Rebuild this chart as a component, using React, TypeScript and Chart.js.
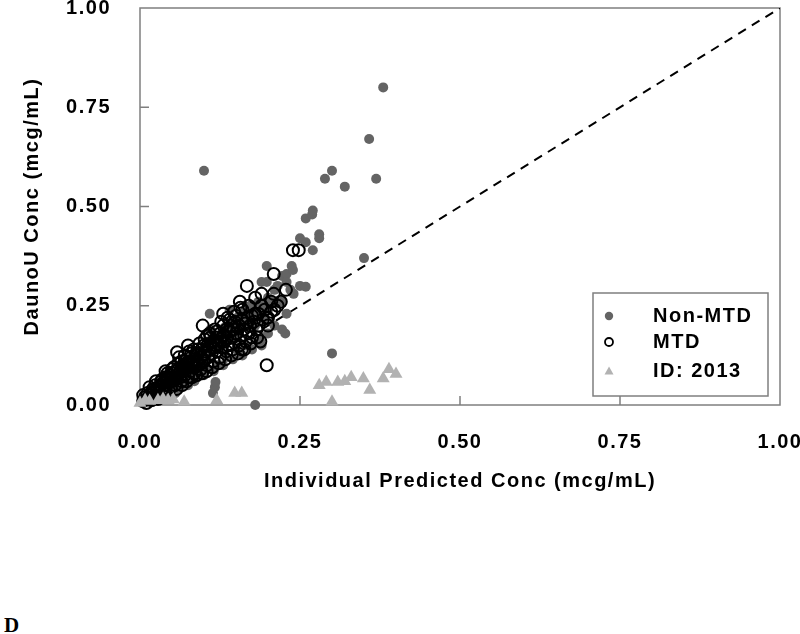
import React, { useEffect, useRef } from "react";
import { Chart, registerables } from "chart.js";

Chart.register(...registerables);

const FONT = "'Liberation Sans', Arial, sans-serif";

const axisTicks = [0, 0.25, 0.5, 0.75, 1];
const seriesNames = ["Non-MTD", "MTD", "ID: 2013"];
const xTitle = "Individual Predicted Conc (mcg/mL)";
const yTitle = "DaunoU Conc (mcg/mL)";
const panelLabel = "D";

const nonMtd: [number, number][] = [
  [0.003, 0.005], [0.006, 0.012], [0.01, 0.008], [0.012, 0.02], [0.015, 0.012],
  [0.02, 0.03], [0.022, 0.018], [0.025, 0.028], [0.03, 0.035], [0.032, 0.025],
  [0.035, 0.045], [0.04, 0.04], [0.042, 0.055], [0.045, 0.05], [0.048, 0.06],
  [0.05, 0.045], [0.052, 0.065], [0.055, 0.07], [0.058, 0.06], [0.06, 0.075],
  [0.062, 0.1], [0.065, 0.08], [0.068, 0.09], [0.07, 0.065], [0.072, 0.085],
  [0.075, 0.1], [0.078, 0.095], [0.08, 0.11], [0.082, 0.09], [0.085, 0.105],
  [0.088, 0.115], [0.09, 0.12], [0.092, 0.095], [0.095, 0.13], [0.098, 0.11],
  [0.1, 0.14], [0.103, 0.125], [0.105, 0.16], [0.108, 0.13], [0.109, 0.23],
  [0.11, 0.15], [0.112, 0.165], [0.114, 0.03], [0.117, 0.045], [0.118, 0.058],
  [0.12, 0.16], [0.122, 0.14], [0.125, 0.17], [0.128, 0.15], [0.13, 0.18],
  [0.132, 0.195], [0.135, 0.16], [0.138, 0.175], [0.14, 0.2], [0.142, 0.18],
  [0.145, 0.21], [0.148, 0.17], [0.15, 0.19], [0.152, 0.22], [0.155, 0.185],
  [0.158, 0.2], [0.16, 0.23], [0.162, 0.21], [0.165, 0.24], [0.168, 0.2],
  [0.17, 0.22], [0.172, 0.25], [0.175, 0.215], [0.178, 0.24], [0.18, 0.2],
  [0.182, 0.23], [0.185, 0.26], [0.188, 0.16], [0.19, 0.31], [0.19, 0.22],
  [0.192, 0.25], [0.195, 0.22], [0.198, 0.35], [0.198, 0.31], [0.2, 0.27],
  [0.2, 0.24], [0.206, 0.26], [0.21, 0.29], [0.215, 0.3], [0.222, 0.26],
  [0.222, 0.325], [0.222, 0.19], [0.227, 0.18], [0.229, 0.33], [0.229, 0.23],
  [0.229, 0.31], [0.235, 0.29], [0.237, 0.35], [0.239, 0.34], [0.24, 0.28],
  [0.25, 0.3], [0.25, 0.42], [0.259, 0.298], [0.259, 0.41], [0.259, 0.47],
  [0.269, 0.48], [0.27, 0.49], [0.27, 0.39], [0.28, 0.43], [0.28, 0.42],
  [0.289, 0.57], [0.3, 0.59], [0.3, 0.13], [0.32, 0.55], [0.35, 0.37],
  [0.358, 0.67], [0.369, 0.57], [0.38, 0.8], [0.1, 0.59], [0.18, 0.0],
  [0.06, 0.04], [0.075, 0.05], [0.09, 0.07], [0.105, 0.09], [0.12, 0.1],
  [0.135, 0.12], [0.15, 0.14], [0.165, 0.15], [0.11, 0.19], [0.14, 0.24],
  [0.07, 0.05], [0.085, 0.06], [0.1, 0.075], [0.115, 0.085], [0.13, 0.1],
  [0.145, 0.115], [0.16, 0.125], [0.175, 0.14], [0.19, 0.15], [0.2, 0.18],
  [0.21, 0.2], [0.04, 0.02], [0.055, 0.03],
];

const mtd: [number, number][] = [
  [0.005, 0.01], [0.008, 0.02], [0.012, 0.015], [0.015, 0.025], [0.018, 0.03],
  [0.02, 0.02], [0.022, 0.035], [0.025, 0.04], [0.028, 0.03], [0.03, 0.045],
  [0.032, 0.05], [0.035, 0.04], [0.036, 0.055], [0.038, 0.06], [0.04, 0.05],
  [0.042, 0.065], [0.044, 0.07], [0.045, 0.055], [0.047, 0.075], [0.05, 0.06],
  [0.05, 0.08], [0.052, 0.07], [0.055, 0.085], [0.056, 0.065], [0.058, 0.075],
  [0.058, 0.133], [0.06, 0.09], [0.062, 0.08], [0.063, 0.07], [0.065, 0.095],
  [0.066, 0.085], [0.068, 0.1], [0.07, 0.075], [0.07, 0.09], [0.072, 0.105],
  [0.074, 0.095], [0.075, 0.15], [0.076, 0.11], [0.078, 0.085], [0.08, 0.1],
  [0.08, 0.12], [0.082, 0.105], [0.085, 0.115], [0.086, 0.095], [0.088, 0.125],
  [0.09, 0.11], [0.09, 0.13], [0.092, 0.1], [0.095, 0.12], [0.096, 0.14],
  [0.098, 0.2], [0.1, 0.125], [0.1, 0.11], [0.102, 0.135], [0.105, 0.15],
  [0.106, 0.12], [0.108, 0.14], [0.11, 0.155], [0.112, 0.13], [0.115, 0.145],
  [0.115, 0.16], [0.118, 0.15], [0.12, 0.17], [0.12, 0.135], [0.122, 0.155],
  [0.125, 0.18], [0.126, 0.16], [0.128, 0.145], [0.13, 0.23], [0.13, 0.175],
  [0.132, 0.16], [0.135, 0.19], [0.136, 0.17], [0.138, 0.15], [0.14, 0.185],
  [0.142, 0.2], [0.145, 0.17], [0.146, 0.19], [0.148, 0.21], [0.15, 0.18],
  [0.152, 0.195], [0.155, 0.2], [0.156, 0.26], [0.158, 0.175], [0.159, 0.14],
  [0.16, 0.215], [0.162, 0.19], [0.165, 0.205], [0.167, 0.3], [0.168, 0.22],
  [0.17, 0.18], [0.172, 0.2], [0.175, 0.225], [0.178, 0.21], [0.18, 0.27],
  [0.182, 0.19], [0.185, 0.23], [0.188, 0.16], [0.19, 0.28], [0.192, 0.215],
  [0.195, 0.24], [0.198, 0.1], [0.198, 0.22], [0.2, 0.2], [0.205, 0.235],
  [0.209, 0.28], [0.209, 0.33], [0.215, 0.25], [0.22, 0.26], [0.228, 0.29],
  [0.239, 0.39], [0.248, 0.39],
  [0.01, 0.005], [0.02, 0.04], [0.03, 0.02], [0.04, 0.07], [0.045, 0.035],
  [0.05, 0.09], [0.055, 0.05], [0.06, 0.105], [0.065, 0.06], [0.07, 0.11],
  [0.075, 0.07], [0.08, 0.13], [0.085, 0.08], [0.09, 0.14], [0.095, 0.09],
  [0.1, 0.15], [0.105, 0.1], [0.11, 0.17], [0.115, 0.11], [0.12, 0.185],
  [0.125, 0.12], [0.13, 0.2], [0.135, 0.135], [0.14, 0.215], [0.145, 0.14],
  [0.15, 0.225], [0.155, 0.15], [0.16, 0.24], [0.165, 0.16], [0.17, 0.25],
  [0.175, 0.17], [0.18, 0.23], [0.185, 0.2], [0.19, 0.25], [0.2, 0.22],
  [0.205, 0.26], [0.21, 0.24], [0.035, 0.065], [0.065, 0.11], [0.105, 0.175],
  [0.012, 0.03], [0.018, 0.012], [0.024, 0.05], [0.028, 0.015], [0.033, 0.06],
  [0.038, 0.03], [0.043, 0.08], [0.048, 0.045], [0.053, 0.095], [0.057, 0.04],
  [0.061, 0.12], [0.066, 0.05], [0.07, 0.125], [0.073, 0.06], [0.077, 0.135],
  [0.081, 0.07], [0.084, 0.14], [0.088, 0.075], [0.093, 0.155], [0.097, 0.08],
  [0.101, 0.165], [0.104, 0.085], [0.109, 0.18], [0.113, 0.095], [0.117, 0.19],
  [0.123, 0.105], [0.127, 0.21], [0.133, 0.115], [0.137, 0.22], [0.143, 0.125],
  [0.147, 0.235], [0.153, 0.13], [0.157, 0.245], [0.163, 0.14], [0.173, 0.155],
  [0.183, 0.17], [0.025, 0.06], [0.015, 0.045], [0.005, 0.025], [0.04, 0.085],
];

const id2013: [number, number][] = [
  [0.0, 0.005], [0.008, 0.012], [0.015, 0.01], [0.028, 0.012], [0.036, 0.015],
  [0.044, 0.012], [0.052, 0.014], [0.069, 0.008], [0.12, 0.012], [0.148, 0.03],
  [0.159, 0.03], [0.28, 0.05], [0.291, 0.058], [0.3, 0.008], [0.309, 0.058],
  [0.32, 0.06], [0.33, 0.07], [0.349, 0.067], [0.359, 0.038], [0.38, 0.067],
  [0.389, 0.09], [0.4, 0.078],
];

const identityLine: [number, number][] = [[0, 0], [1, 1]];

const toPts = (a: [number, number][]) => a.map(([x, y]) => ({ x, y }));

const SPACING = "1.5px";

const spacingPlugin = {
  id: "spacing",
  beforeUpdate(chart: any) {
    chart.ctx.letterSpacing = SPACING;
  },
  beforeDraw(chart: any) {
    chart.ctx.letterSpacing = SPACING;
  },
};

const framePlugin = {
  id: "frame",
  beforeDatasetsDraw(chart: any) {
    const { ctx, chartArea: a, scales } = chart;
    ctx.save();
    ctx.strokeStyle = "#7f7f7f";
    ctx.lineWidth = 1.5;
    ctx.strokeRect(a.left, a.top, a.right - a.left, a.bottom - a.top);
    ctx.beginPath();
    for (const v of axisTicks.slice(1, -1)) {
      const px = scales.x.getPixelForValue(v);
      ctx.moveTo(px, a.bottom);
      ctx.lineTo(px, a.bottom - 9);
      const py = scales.y.getPixelForValue(v);
      ctx.moveTo(a.left, py);
      ctx.lineTo(a.left + 9, py);
    }
    ctx.stroke();
    ctx.restore();
  },
};

const legendPlugin = {
  id: "boxLegend",
  afterDraw(chart: any) {
    const { ctx, chartArea: a } = chart;
    const bx = a.right - 187;
    const by = a.bottom - 112;
    const bw = 175;
    const bh = 103;
    ctx.save();
    ctx.fillStyle = "#ffffff";
    ctx.fillRect(bx, by, bw, bh);
    ctx.strokeStyle = "#7f7f7f";
    ctx.lineWidth = 1.5;
    ctx.strokeRect(bx, by, bw, bh);
    const rows = [by + 23, by + 49, by + 78];
    const mx = bx + 16;
    ctx.fillStyle = "#646464";
    ctx.beginPath();
    ctx.arc(mx, rows[0], 4.2, 0, Math.PI * 2);
    ctx.fill();
    ctx.strokeStyle = "#000000";
    ctx.lineWidth = 1.8;
    ctx.beginPath();
    ctx.arc(mx, rows[1], 4, 0, Math.PI * 2);
    ctx.stroke();
    ctx.fillStyle = "#b2b2b2";
    ctx.beginPath();
    ctx.moveTo(mx, rows[2] - 4.5);
    ctx.lineTo(mx + 4.5, rows[2] + 3.5);
    ctx.lineTo(mx - 4.5, rows[2] + 3.5);
    ctx.closePath();
    ctx.fill();
    ctx.fillStyle = "#000000";
    ctx.font = `bold 20px ${FONT}`;
    ctx.letterSpacing = SPACING;
    ctx.textAlign = "left";
    ctx.textBaseline = "middle";
    seriesNames.forEach((n, i) => ctx.fillText(n, bx + 60, rows[i]));
    ctx.restore();
  },
};

export default function App() {
  const ref = useRef<HTMLCanvasElement>(null);

  useEffect(() => {
    if (!ref.current) return;
    const tickFont = { family: FONT, size: 20, weight: "bold" as const };
    const chart = new Chart(ref.current, {
      type: "scatter",
      data: {
        datasets: [
          {
            label: seriesNames[0],
            data: toPts(nonMtd),
            pointStyle: "circle",
            pointRadius: 5,
            pointBackgroundColor: "#646464",
            pointBorderColor: "#646464",
            pointBorderWidth: 0,
            order: 3,
            clip: false,
          } as any,
          {
            label: seriesNames[1],
            data: toPts(mtd),
            pointStyle: "circle",
            pointRadius: 6,
            pointBackgroundColor: "rgba(0,0,0,0)",
            pointBorderColor: "#000000",
            pointBorderWidth: 2,
            order: 2,
            clip: false,
          } as any,
          {
            label: seriesNames[2],
            data: toPts(id2013),
            pointStyle: "triangle",
            pointRadius: 7.5,
            pointBackgroundColor: "#b2b2b2",
            pointBorderColor: "#b2b2b2",
            pointBorderWidth: 0,
            order: 1,
            clip: false,
          } as any,
          {
            label: "identity",
            data: toPts(identityLine),
            showLine: true,
            borderColor: "#000000",
            borderWidth: 2,
            borderDash: [9, 7],
            pointRadius: 0,
            order: 4,
          } as any,
        ],
      },
      plugins: [spacingPlugin, framePlugin, legendPlugin],
      options: {
        responsive: false,
        animation: false,
        devicePixelRatio: 1,
        events: [],
        layout: { padding: { left: 0, right: 20, top: 5, bottom: 0 } },
        plugins: {
          legend: { display: false },
          tooltip: { enabled: false },
        },
        scales: {
          x: {
            type: "linear",
            min: 0,
            max: 1,
            afterBuildTicks: (s: any) => {
              s.ticks = axisTicks.map((v) => ({ value: v }));
            },
            afterFit: (s: any) => {
              s.height = 95;
              s.paddingLeft = 0;
              s.paddingRight = 0;
            },
            ticks: {
              font: tickFont,
              color: "#000000",
              padding: 17,
              callback: (v: any) => Number(v).toFixed(2),
            },
            grid: { display: false },
            border: { display: false },
            title: {
              display: true,
              text: xTitle,
              color: "#000000",
              font: tickFont,
              padding: { top: 0, bottom: 7 },
            },
          },
          y: {
            type: "linear",
            min: 0,
            max: 1,
            afterBuildTicks: (s: any) => {
              s.ticks = axisTicks.map((v) => ({ value: v }));
            },
            afterFit: (s: any) => {
              s.width = 140;
              s.paddingTop = 0;
              s.paddingBottom = 0;
            },
            ticks: {
              font: tickFont,
              color: "#000000",
              padding: 21,
              callback: (v: any) => Number(v).toFixed(2),
            },
            grid: { display: false },
            border: { display: false },
            title: {
              display: true,
              text: yTitle,
              color: "#000000",
              font: tickFont,
              padding: { top: 20, bottom: 0 },
            },
          },
        },
      },
    });
    return () => chart.destroy();
  }, []);

  return (
    <div style={{ position: "absolute", left: 0, top: 0, width: 800, height: 634, background: "#ffffff" }}>
      <canvas ref={ref} width={800} height={500} style={{ position: "absolute", left: 0, top: 0, width: 800, height: 500 }} />
      <div
        style={{
          position: "absolute",
          left: 4,
          top: 615,
          fontFamily: "'Liberation Serif', 'Times New Roman', serif",
          fontWeight: "bold",
          fontSize: 21,
          lineHeight: "21px",
          color: "#000000",
        }}
      >
        {panelLabel}
      </div>
    </div>
  );
}
